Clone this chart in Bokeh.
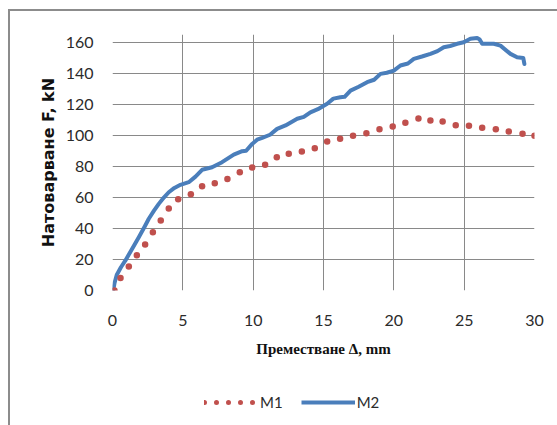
from bokeh.plotting import figure
from bokeh.layouts import column
from bokeh.models import FixedTicker, Range1d, Legend, LegendItem, ColumnDataSource
from bokeh.embed import file_html
from bokeh.resources import INLINE

# ---- data ----
m1_x = [0.14, 0.57, 1.16, 1.73, 2.32, 2.87, 3.43, 4.0, 4.67, 5.57, 6.37, 7.27, 8.17,
        9.05, 9.93, 10.85, 11.68, 12.53, 13.46, 14.38, 15.26, 16.18, 17.1, 18.05,
        18.98, 19.92, 20.82, 21.75, 22.6, 23.47, 24.4, 25.34, 26.28, 27.25, 28.17,
        29.15, 30.0]
m1_y = [0, 8, 15.5, 22.8, 29.7, 37.6, 45.2, 52.9, 58.9, 62.1, 67.3, 69.2, 72.0,
        76.3, 79.4, 81.1, 86.0, 88.2, 89.7, 91.8, 96.1, 97.9, 99.8, 101.5,
        104.1, 105.8, 108.2, 111.0, 109.7, 109.0, 106.6, 106.3, 105.0, 104.1, 102.6,
        101.1, 99.8]

m2_x = [0.05, 0.15, 0.3, 0.6, 0.92, 1.4, 1.87, 2.3, 2.58, 2.95, 3.29, 3.65, 4.0, 4.4,
        4.83, 5.42, 5.9, 6.37, 7.08, 7.79, 8.62, 9.22, 9.5, 9.93, 10.28, 10.64, 11.2,
        11.7, 12.3, 13.13, 13.6, 14.07, 14.6, 15.26, 15.7, 16.2, 16.5, 16.92, 17.5,
        18.1, 18.6, 19.05, 19.5, 20.0, 20.47, 21.0, 21.42, 22.0, 22.6, 23.1, 23.55,
        24.0, 24.5, 24.97, 25.44, 25.92, 26.1, 26.28, 27.1, 27.58, 28.29, 28.76,
        29.2, 29.28]
m2_y = [0, 5, 10, 15, 19.4, 27, 34.4, 41.5, 46.3, 51.5, 55.9, 60, 63.4, 66.2,
        68.2, 69.9, 73.5, 77.9, 79.5, 82.8, 87.7, 89.9, 90.2, 94.6, 97.3, 98.5, 100.5,
        104.3, 106.5, 110.8, 112, 115, 117, 120.5, 123.8, 124.7, 125, 129, 131.5,
        134.4, 136, 139.8, 140.5, 141.9, 145.2, 146.5, 149.5, 151, 152.7, 154.5, 157,
        157.8, 159.2, 160.2, 162.4, 163, 162, 159.2, 159.2, 158, 152.7, 150.5,
        150.1, 146.2]

x_ticks = [0, 5, 10, 15, 20, 25, 30]
y_ticks = [0, 20, 40, 60, 80, 100, 120, 140, 160]
series_names = ["M1", "M2"]
x_title = "Преместване Δ, mm"
y_title = "Натоварване F, kN"

RED = "#C0504D"
BLUE = "#4A7EBB"
GRID = "#898989"
TXT = "#2b2b2b"

src1 = ColumnDataSource(dict(x=m1_x, y=m1_y))
src2 = ColumnDataSource(dict(x=m2_x, y=m2_y))

# ---- main chart ----
p1 = figure(width=547, height=364, output_backend="svg", toolbar_location=None,
            x_range=Range1d(0, 30), y_range=Range1d(0, 165.2),
            min_border_left=102, min_border_right=23, min_border_top=23,
            min_border_bottom=85)
p1.outline_line_color = None
p1.background_fill_color = "white"
p1.border_fill_color = "white"

p1.xaxis.ticker = FixedTicker(ticks=x_ticks)
p1.yaxis.ticker = FixedTicker(ticks=y_ticks)
for ax in (p1.xaxis[0], p1.yaxis[0]):
    ax.axis_line_color = None
    ax.major_tick_line_color = None
    ax.minor_tick_line_color = None
    ax.major_tick_out = 0
    ax.major_tick_in = 0
    ax.major_label_text_font = "Lato"
    ax.major_label_text_font_size = "16px"
    ax.major_label_text_color = TXT
    ax.axis_label_text_color = "#111111"
    ax.axis_label_text_font_style = "bold"

p1.yaxis.major_label_standoff = 19
p1.yaxis.axis_label = y_title
p1.yaxis.axis_label_text_font = "DejaVu Sans"
p1.yaxis.axis_label_text_font_size = "16px"
p1.yaxis.axis_label_standoff = 5

p1.xaxis.major_label_standoff = 24
p1.xaxis.axis_label = x_title
p1.xaxis.axis_label_text_font = "Liberation Serif"
p1.xaxis.axis_label_text_font_size = "15px"
p1.xaxis.axis_label_standoff = 12

p1.xgrid.grid_line_color = GRID
p1.ygrid.grid_line_color = GRID
p1.xgrid.grid_line_width = 1
p1.ygrid.grid_line_width = 1

p1.line("x", "y", source=src2, line_color=BLUE, line_width=4,
        line_join="round", line_cap="round")
p1.scatter("x", "y", source=src1, size=6.5, fill_color=RED, line_color=None)

# ---- legend strip (series drawn out of view; only legend shows) ----
p2 = figure(width=547, height=50, output_backend="svg", toolbar_location=None,
            x_axis_type=None, y_axis_type=None,
            x_range=Range1d(0, 30), y_range=Range1d(-20, -10),
            min_border_left=0, min_border_right=0, min_border_top=0,
            min_border_bottom=0)
p2.outline_line_color = None
p2.background_fill_color = "white"
p2.border_fill_color = "white"

leg1 = p2.line("x", "y", source=src1, line_color=RED, line_width=5,
               line_dash="0 12", line_cap="round")
leg2 = p2.line("x", "y", source=src2, line_color=BLUE, line_width=4)

legend = Legend(items=[LegendItem(label=series_names[0], renderers=[leg1]),
                       LegendItem(label=series_names[1], renderers=[leg2])],
                orientation="horizontal", location=(92, 13),
                glyph_width=54, glyph_height=20, label_standoff=2, spacing=18,
                padding=0, margin=0, border_line_color=None,
                background_fill_alpha=0, label_text_font="Lato",
                label_text_font_size="15px", label_text_color=TXT)
p2.add_layout(legend, "center")

p = column(p1, p2, spacing=0)
p.styles = {"margin-left": "8px", "margin-top": "9px",
            "border-left": "2px solid #8c8c8c", "border-top": "2px solid #8c8c8c"}

open("out.html", "w").write(file_html(p, INLINE))
